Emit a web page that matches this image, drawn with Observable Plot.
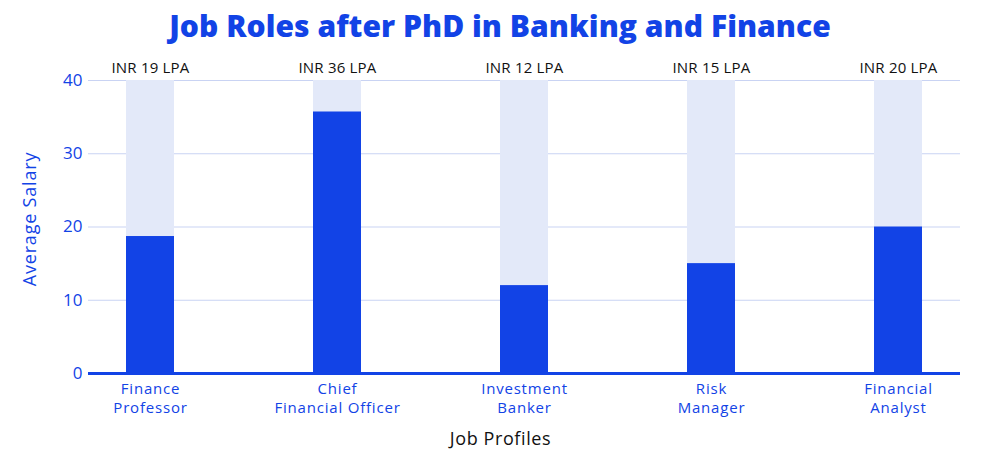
<!DOCTYPE html>
<html>
<head>
<meta charset="utf-8">
<script src="https://cdn.jsdelivr.net/npm/d3@7"></script>
<script src="https://cdn.jsdelivr.net/npm/@observablehq/plot@0.6"></script>
<style>
  html, body { margin: 0; padding: 0; background: #fff; }
  body { width: 1000px; height: 461px; overflow: hidden; font-family: "Open Sans", sans-serif; }
  #title { height: 52px; line-height: 52px; text-align: center; font-size: 30px; font-weight: 800; color: #1243e6; letter-spacing: 0.05px; }
  #chart svg { display: block; }
  g[aria-label="x-axis tick label"] text { letter-spacing: 0.8px; }
  .vlabel text { letter-spacing: 0.2px; }
  .ylab text { letter-spacing: 0.8px; }
  .xlab text { letter-spacing: 0.6px; }
</style>
</head>
<body>
<div id="title">Job Roles after PhD in Banking and Finance</div>
<div id="chart"></div>
<script>
const categories = ["Finance Professor", "Chief Financial Officer", "Investment Banker", "Risk Manager", "Financial Analyst"];
const tickLabels = ["Finance\nProfessor", "Chief\nFinancial Officer", "Investment\nBanker", "Risk\nManager", "Financial\nAnalyst"];
const salaries = [18.7, 35.7, 12.0, 15.0, 20.0];
const valueLabels = ["INR 19 LPA", "INR 36 LPA", "INR 12 LPA", "INR 15 LPA", "INR 20 LPA"];
const maxValue = 40;
const yTicks = [0, 10, 20, 30, 40];

const data = categories.map((c, i) => ({ job: c, salary: salaries[i], label: valueLabels[i], max: maxValue }));
const labelOf = new Map(categories.map((c, i) => [c, tickLabels[i]]));

const blue = "#1243e6";

const chart = Plot.plot({
  width: 1000,
  height: 409,
  marginTop: 28,
  marginBottom: 88,
  marginLeft: 88,
  marginRight: 40,
  style: { fontFamily: "Open Sans, sans-serif", background: "#fff" },
  x: { domain: categories, paddingInner: 0.744, paddingOuter: 0.2 },
  y: { domain: [0, 40] },
  marks: [
    Plot.gridY(yTicks, { stroke: "#c9d3f3", strokeOpacity: 1, strokeWidth: 1 }),
    Plot.barY(data, { x: "job", y: "max", fill: "#e3e9f9" }),
    Plot.barY(data, { x: "job", y: "salary", fill: blue }),
    Plot.ruleY([0], { stroke: blue, strokeWidth: 3 }),
    Plot.text(data, { x: "job", y: "max", text: "label", dy: -12, fill: "#111", fontSize: 15, className: "vlabel" }),
    Plot.axisY({ ticks: yTicks, tickSize: 0, tickPadding: 6, fontSize: 17, color: blue, label: null }),
    Plot.text(["Average Salary"], { frameAnchor: "left", textAnchor: "middle", rotate: -90, dx: -58, dy: -8, fontSize: 18, fill: blue, className: "ylab" }),
    Plot.axisX({ tickSize: 0, tickPadding: 7, fontSize: 15, color: blue, lineHeight: 1.27, tickFormat: d => labelOf.get(d), label: null }),
    Plot.text(["Job Profiles"], { frameAnchor: "bottom", dy: 71, dx: -24, fill: "#111", fontSize: 18, className: "xlab" })
  ]
});
document.getElementById("chart").appendChild(chart);
</script>
</body>
</html>
